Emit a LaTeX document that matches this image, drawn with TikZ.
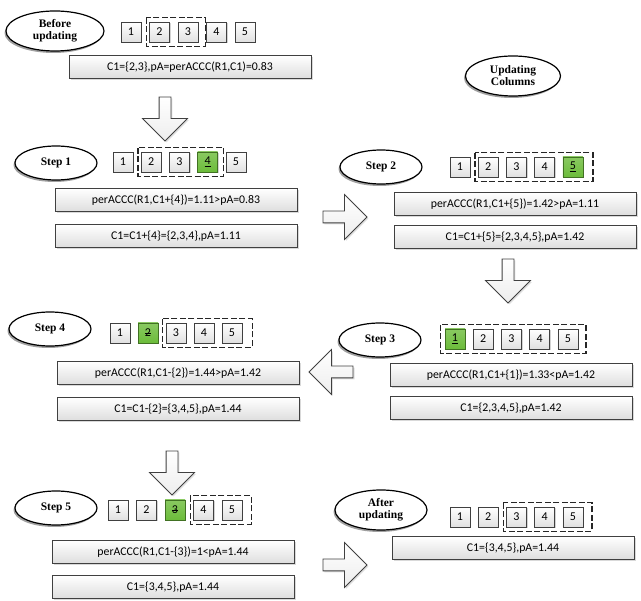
\documentclass[tikz,border=0pt]{standalone}
\usepackage{fontspec}
\setmainfont{Carlito}
\newfontfamily\labelfont{Liberation Serif}
\usetikzlibrary{shapes.geometric,shapes.arrows,shadows,calc}

\definecolor{stepgreen}{RGB}{108,188,58}
\newcommand\ulnum[1]{\underline{#1}}
\newcommand\strnum[1]{\makebox[0pt][l]{\rule[0.5ex]{0.5em}{0.6pt}}#1}

\tikzset{
  plain/.style={},
  numbox/.style={draw=black!75, top color=white, bottom color=black!12, minimum width=20pt, minimum height=20pt, inner sep=0pt, font=\fontsize{12}{12}\selectfont, drop shadow={shadow xshift=1.2pt, shadow yshift=-1.2pt, opacity=0.35}},
  greenbox/.style={top color=stepgreen!80!white, bottom color=stepgreen, draw=stepgreen!60!black},
  textbox/.style={draw=black!75, top color=white, bottom color=black!13, minimum width=242pt, minimum height=23pt, inner sep=2pt, font=\fontsize{11.8}{13}\selectfont, drop shadow={shadow xshift=1.5pt, shadow yshift=-1.5pt, opacity=0.3}},
  stepell/.style={ellipse, draw=black, line width=1.2pt, fill=white, minimum width=82pt, minimum height=34pt, inner sep=0pt, align=center, font=\labelfont\bfseries\fontsize{11.5}{12}\selectfont, drop shadow={shadow xshift=-1.5pt, shadow yshift=-2pt, opacity=0.75}},
  grpbox/.style={draw=black!85, dashed, dash pattern=on 6pt off 2.5pt, line width=1.3pt},
  bigarrow/.style={single arrow, draw=black!75, line width=0.8pt, top color=white, bottom color=black!7, inner sep=5.5pt, minimum height=44pt, single arrow head extend=16.5pt, single arrow head indent=0pt, drop shadow={shadow xshift=1.5pt, shadow yshift=-1.5pt, opacity=0.25}},
}

\begin{document}
\begin{tikzpicture}[x=1pt, y=-1pt]
\useasboundingbox (0,0) rectangle (641,601);

% Before updating
\node[stepell, minimum width=98pt, minimum height=40pt] (e0) at (55,31) {Before\\updating};
\foreach \t/\s [count=\i] in {1/plain,2/plain,3/plain,4/plain,5/plain}
  \node[numbox, \s] (r0\i) at ({131+28.5*(\i-1)},32) {\t};
\draw[grpbox] ($(r02.north west)+(-3,-4)$) rectangle ($(r03.south east)+(7,4)$);
\node[textbox] (t0) at (190,67) {C1=\{2,3\},pA=perACCC(R1,C1)=0.83};

\node[bigarrow, shape border rotate=270] (a1) at (165,116) {};

% Step 1
\node[stepell] (e1) at (56,163) {Step 1};
\foreach \t/\s [count=\i] in {1/plain,2/plain,3/plain,\ulnum{4}/greenbox,5/plain}
  \node[numbox, \s] (r1\i) at ({123+28.2*(\i-1)},162) {\t};
\draw[grpbox] ($(r12.north west)+(-3,-4)$) rectangle ($(r14.south east)+(6,4)$);
\node[textbox] (t1a) at (176,200) {perACCC(R1,C1+\{4\})=1.11>pA=0.83};
\node[textbox] (t1b) at (176,236) {C1=C1+\{4\}=\{2,3,4\},pA=1.11};

\node[bigarrow] (a2) at (342,217) {};

% Updating columns
\node[stepell, minimum width=95pt, minimum height=40pt] (eu) at (513,76) {Updating\\Columns};

% Step 2
\node[stepell] (e2) at (381,167) {Step 2};
\foreach \t/\s [count=\i] in {1/plain,2/plain,3/plain,4/plain,\ulnum{5}/greenbox}
  \node[numbox, \s] (r2\i) at ({460+28.2*(\i-1)},167) {\t};
\draw[grpbox] ($(r22.north west)+(-3,-4)$) rectangle ($(r25.south east)+(10,4)$);
\node[textbox] (t2a) at (515,204) {perACCC(R1,C1+\{5\})=1.42>pA=1.11};
\node[textbox] (t2b) at (515,237) {C1=C1+\{5\}=\{2,3,4,5\},pA=1.42};

\node[bigarrow, shape border rotate=270] (a3) at (508,278) {};

% Step 3
\node[stepell] (e3) at (380,340) {Step 3};
\foreach \t/\s [count=\i] in {\ulnum{1}/greenbox,2/plain,3/plain,4/plain,5/plain}
  \node[numbox, \s] (r3\i) at ({455+28.2*(\i-1)},339) {\t};
\draw[grpbox] ($(r31.north west)+(-4,-4)$) rectangle ($(r35.south east)+(8,4)$);
\node[textbox] (t3a) at (511,375) {perACCC(R1,C1+\{1\})=1.33<pA=1.42};
\node[textbox] (t3b) at (511,408) {C1=\{2,3,4,5\},pA=1.42};

\node[bigarrow, shape border rotate=180] (a4) at (334,372) {};

% Step 4
\node[stepell] (e4) at (50,329) {Step 4};
\foreach \t/\s [count=\i] in {1/plain,\strnum{2}/greenbox,3/plain,4/plain,5/plain}
  \node[numbox, \s] (r4\i) at ({120+28*(\i-1)},333) {\t};
\draw[grpbox] ($(r43.north west)+(-3,-4)$) rectangle ($(r45.south east)+(10,4)$);
\node[textbox] (t4a) at (178,373) {perACCC(R1,C1-\{2\})=1.44>pA=1.42};
\node[textbox] (t4b) at (178,409) {C1=C1-\{2\}=\{3,4,5\},pA=1.44};

\node[bigarrow, shape border rotate=270] (a5) at (172,470) {};

% Step 5
\node[stepell] (e5) at (56,508) {Step 5};
\foreach \t/\s [count=\i] in {1/plain,2/plain,\strnum{3}/greenbox,4/plain,5/plain}
  \node[numbox, \s] (r5\i) at ({118+28.5*(\i-1)},510) {\t};
\draw[grpbox] ($(r54.north west)+(-3,-4)$) rectangle ($(r55.south east)+(9,4)$);
\node[textbox] (t5a) at (173,552) {perACCC(R1,C1-\{3\})=1<pA=1.44};
\node[textbox] (t5b) at (173,587) {C1=\{3,4,5\},pA=1.44};

\node[bigarrow] (a6) at (342,565) {};

% After updating
\node[stepell, minimum width=92pt, minimum height=40pt] (e6) at (381,510) {After\\updating};
\foreach \t/\s [count=\i] in {1/plain,2/plain,3/plain,4/plain,5/plain}
  \node[numbox, \s] (r6\i) at ({460+28.2*(\i-1)},517) {\t};
\draw[grpbox] ($(r63.north west)+(-3,-4)$) rectangle ($(r65.south east)+(9,4)$);
\node[textbox] (t6) at (513,548) {C1=\{3,4,5\},pA=1.44};

\end{tikzpicture}
\end{document}
